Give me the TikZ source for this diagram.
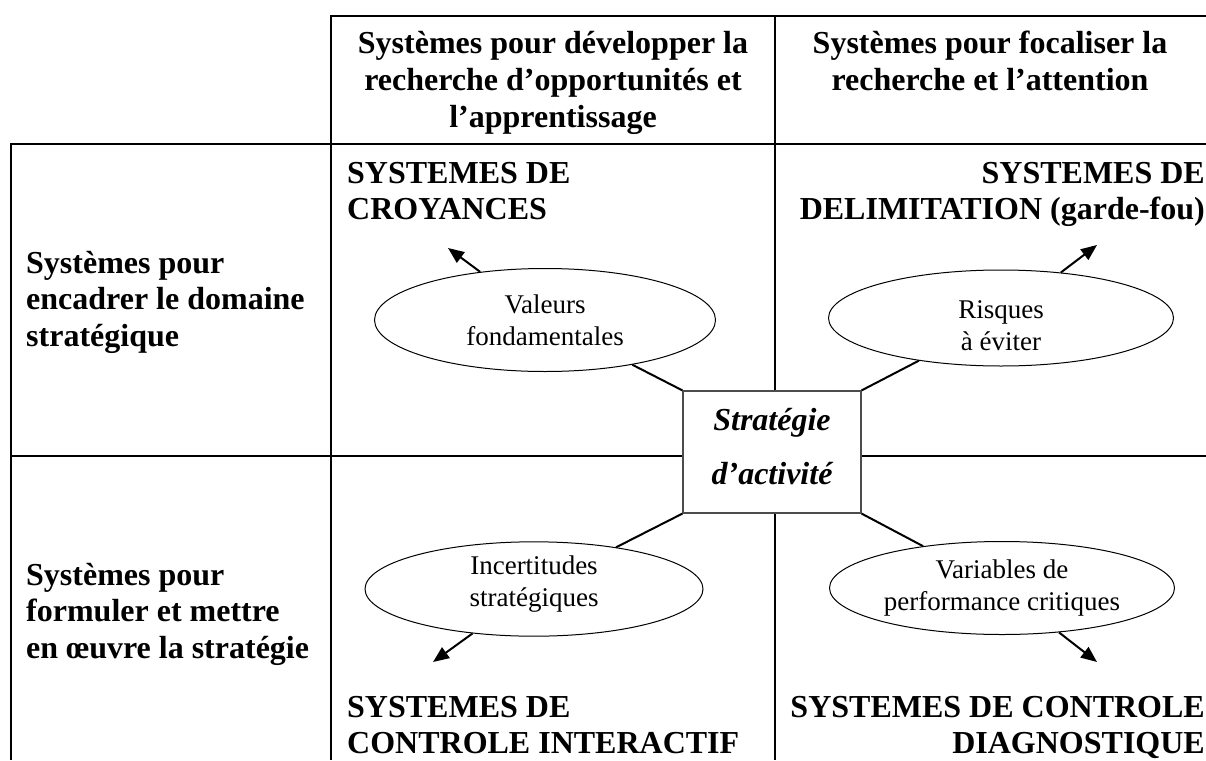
\documentclass[tikz,border=0pt]{standalone}
\usepackage{fontspec}
\setmainfont{Liberation Serif}
\usetikzlibrary{arrows.meta,shapes.geometric}
\begin{document}
\begin{tikzpicture}[x=1pt,y=-1pt,
  grid/.style={line width=2pt},
  hdr/.style={font=\fontsize{32}{37}\selectfont\bfseries, inner sep=0pt, align=center, anchor=base},
  rowlab/.style={font=\fontsize{32}{36.5}\selectfont\bfseries, inner sep=0pt, align=left, anchor=base west},
  ttll/.style={font=\fontsize{32}{36}\selectfont\bfseries, inner sep=0pt, align=left, anchor=base west},
  ttlr/.style={font=\fontsize{32}{36}\selectfont\bfseries, inner sep=0pt, align=right, anchor=base east},
  ell/.style={draw, ellipse, line width=1pt, inner sep=0pt, align=center, font=\fontsize{27}{32}\selectfont},
  link/.style={line width=2pt},
  arr/.style={line width=2pt, -{Triangle[length=16pt,width=13pt]}},
  centrebox/.style={draw=black!70, line width=1.2pt, fill=white, minimum width=178pt, minimum height=122pt, inner sep=0pt, align=center, font=\fontsize{32}{54}\selectfont\bfseries\itshape}
]
\useasboundingbox (0,0) rectangle (1206,760);
% table grid
\draw[grid] (1206,16) -- (331,16) -- (331,760);
\draw[grid] (1206,144) -- (11,144) -- (11,760);
\draw[grid] (775,16) -- (775,760);
\draw[grid] (11,456) -- (1206,456);
% header texts (anchor base = last line)
\node[hdr] (h1) at (553,127) {Systèmes pour développer la\\recherche d’opportunités et\\l’apprentissage};
\node[hdr] (h2) at (990,90) {Systèmes pour focaliser la\\recherche et l’attention};
% row labels
\node[rowlab] (r1) at (26,346) {Systèmes pour\\encadrer le domaine\\stratégique};
\node[rowlab] (r2) at (26,658) {Systèmes pour\\formuler et mettre\\en œuvre la stratégie};
% quadrant titles
\node[ttll] (tTL) at (347,219) {SYSTEMES DE\\CROYANCES};
\node[ttlr] (tTR) at (1205,219) {SYSTEMES DE\\DELIMITATION (garde-fou)};
\node[ttll] (tBL) at (347,753) {SYSTEMES DE\\CONTROLE INTERACTIF};
\node[ttlr] (tBR) at (1205,753) {SYSTEMES DE CONTROLE\\DIAGNOSTIQUE};
% centre box
\node[centrebox] (strat) at (772,452) {Stratégie\\d’activité\rule[-12pt]{0pt}{12pt}};
% ellipses
\node[ell, minimum width=341pt, minimum height=103pt] (eTL) at (545,320) {Valeurs\\fondamentales};
\node[ell, minimum width=345pt, minimum height=96pt] (eTR) at (1001,318) {\rule{0pt}{34pt}Risques\\à éviter};
\node[ell, minimum width=338pt, minimum height=94pt] (eBL) at (534,589) {Incertitudes\\stratégiques\rule[-16pt]{0pt}{16pt}};
\node[ell, minimum width=345pt, minimum height=93pt] (eBR) at (1002,588) {Variables de\\performance critiques};
% arrow tips
\coordinate (pTL) at (448,248);
\coordinate (pTR) at (1097,245);
\coordinate (pBL) at (433,662);
\coordinate (pBR) at (1097,662);
% connectors
\draw[link] (strat.north west) -- (eTL);
\draw[link] (strat.north east) -- (eTR);
\draw[link] (strat.south west) -- (eBL);
\draw[link] (strat.south east) -- (eBR);
\draw[arr] (eTL) -- (pTL);
\draw[arr] (eTR) -- (pTR);
\draw[arr] (eBL) -- (pBL);
\draw[arr] (eBR) -- (pBR);
\end{tikzpicture}
\end{document}
